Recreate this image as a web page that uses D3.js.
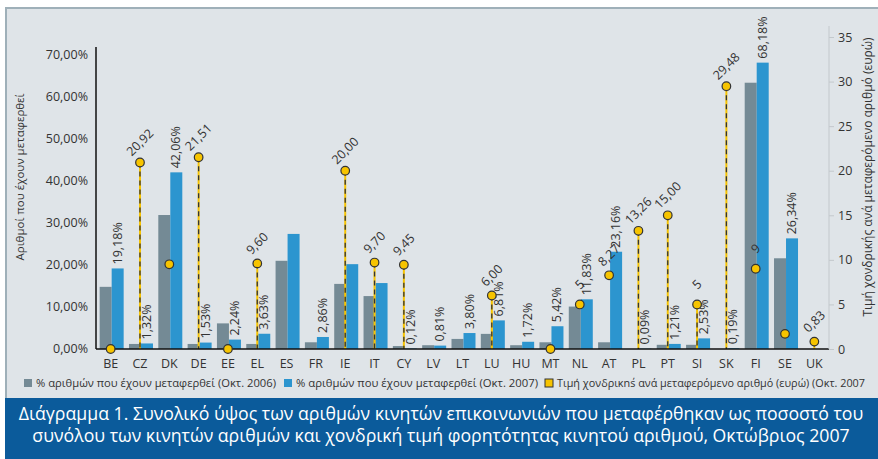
<!DOCTYPE html>
<html lang="el">
<meta charset="UTF-8">
<title>Διάγραμμα 1</title>
<script src="https://cdn.jsdelivr.net/npm/d3@7"></script>
<style>
  body { margin: 0; background: #fff; font-family: "Open Sans", sans-serif; }
  svg text { fill: #333; }
  .caption { fill: #fff !important; }
</style>
<body>
<div id="chart"></div>
<script>
// country codes on the x axis
var countries = ["BE","CZ","DK","DE","EE","EL","ES","FR","IE","IT","CY","LV","LT","LU","HU","MT","NL","AT","PL","PT","SI","SK","FI","SE","UK"];

// % of numbers ported, Oct 2006 (grey)
var ported2006 = [14.8,1.2,31.9,1.2,6.1,1.2,21.0,1.6,15.5,12.6,0.7,0.9,2.4,3.6,0.9,1.6,10.1,1.6,0,1.0,1.0,0,63.4,21.6,0];
// % of numbers ported, Oct 2007 (blue)
var ported2007 = [19.18,1.32,42.06,1.53,2.24,3.63,27.4,2.86,20.2,15.7,0.12,0.81,3.80,6.81,1.72,5.42,11.83,23.16,0.09,1.21,2.53,0.19,68.18,26.34,0];
var label2007 = ["19,18%","1,32%","42,06%","1,53%","2,24%","3,63%",null,"2,86%",null,null,"0,12%","0,81%","3,80%","6,81%","1,72%","5,42%","11,83%","23,16%","0,09%","1,21%","2,53%","0,19%","68,18%","26,34%",null];

// wholesale price per ported number (euro), Oct 2007 (yellow dots)
var price = [0,20.92,9.5,21.51,0,9.60,null,null,20.00,9.70,9.45,null,null,6.00,null,0,5,8.27,13.26,15.00,5,29.48,9,1.7,0.83];
var priceLabel = [null,"20,92",null,"21,51",null,"9,60",null,null,"20,00","9,70","9,45",null,null,"6,00",null,null,"5","8,27","13,26","15,00","5","29,48","9",null,"0,83"];
var dropLine = [0,1,0,1,0,1,0,0,1,1,1,0,0,1,0,0,0,0,1,1,1,1,0,0,1];

var leftTicks = [0,10,20,30,40,50,60,70];
var rightTicks = [0,5,10,15,20,25,30,35];

var legendItems = ["% αριθμών που έχουν μεταφερθεί (Οκτ. 2006)", "% αριθμών που έχουν μεταφερθεί (Οκτ. 2007)", "Τιμή χονδρικn΄s ανά μεταφερόμενο αριθμό (ευρώ) (Οκτ. 2007"];
var captionLines = ["Διάγραμμα 1. Συνολικό ύψος των αριθμών κινητών επικοινωνιών που μεταφέρθηκαν ως ποσοστό του", "συνόλου των κινητών αριθμών και χονδρική τιμή φορητότητας κινητού αριθμού, Οκτώβριος 2007"];

var W = 878, H = 459;
var grey = "#748a95", blue = "#2c95cf", yellow = "#f7c400";

var svg = d3.select("#chart").append("svg").attr("width", W).attr("height", H);

// panel background + frame
svg.append("rect").attr("x", 6).attr("y", 7).attr("width", W - 6).attr("height", 392).attr("fill", "#dfe4e8");
svg.append("line").attr("x1", 6).attr("x2", W).attr("y1", 8).attr("y2", 8).attr("stroke", "#9fb0b9").attr("stroke-width", 2);
svg.append("line").attr("x1", 6).attr("x2", 6).attr("y1", 7).attr("y2", 399).attr("stroke", "#9fb0b9").attr("stroke-width", 2);

var x = d3.scaleBand().domain(countries).range([96, 829]);
var yL = d3.scaleLinear().domain([0, 70]).range([349, 55]);
var yR = d3.scaleLinear().domain([0, 35]).range([349, 37]);

var bw = 12;

// bars
svg.append("g").selectAll("rect").data(countries).enter().append("rect")
  .attr("x", function(d) { return x(d) + x.bandwidth() / 2 - bw + 1; })
  .attr("y", function(d, i) { return yL(ported2006[i]); })
  .attr("width", bw)
  .attr("height", function(d, i) { return yL(0) - yL(ported2006[i]); })
  .attr("fill", grey);

svg.append("g").selectAll("rect").data(countries).enter().append("rect")
  .attr("x", function(d) { return x(d) + x.bandwidth() / 2 + 1; })
  .attr("y", function(d, i) { return yL(ported2007[i]); })
  .attr("width", bw)
  .attr("height", function(d, i) { return yL(0) - yL(ported2007[i]); })
  .attr("fill", blue);

// drop lines (yellow with black dashes)
var dl = svg.append("g");
countries.forEach(function(c, i) {
  if (!dropLine[i] || price[i] == null) return;
  var cx = x(c) + x.bandwidth() / 2;
  dl.append("line").attr("x1", cx).attr("x2", cx).attr("y1", yR(price[i])).attr("y2", yR(0))
    .attr("stroke", yellow).attr("stroke-width", 2);
  dl.append("line").attr("x1", cx).attr("x2", cx).attr("y1", yR(price[i])).attr("y2", yR(0))
    .attr("stroke", "#333").attr("stroke-width", 1.3).attr("stroke-dasharray", "5,4");
});

// blue bar labels
svg.append("g").selectAll("text").data(countries).enter()
  .filter(function(d, i) { return label2007[i] != null; })
  .append("text")
  .attr("transform", function(d) {
    var i = countries.indexOf(d);
    return "translate(" + (x(d) + x.bandwidth() / 2 + 1 + bw / 2 + 4) + "," + (yL(ported2007[i]) - 4) + ") rotate(-90)";
  })
  .attr("font-size", 12.5)
  .text(function(d) { return label2007[countries.indexOf(d)]; });

// axes
svg.append("line").attr("x1", 96).attr("x2", 829).attr("y1", 349).attr("y2", 349).attr("stroke", "#111").attr("stroke-width", 1.5);
svg.append("line").attr("x1", 96).attr("x2", 96).attr("y1", 47).attr("y2", 349).attr("stroke", "#111").attr("stroke-width", 1.5);

svg.append("g").selectAll("text").data(leftTicks).enter().append("text")
  .attr("x", 88).attr("y", function(d) { return yL(d); }).attr("dy", "0.35em")
  .attr("text-anchor", "end").attr("font-size", 12.5)
  .text(function(d) { return d3.format(".2f")(d).replace(".", ",") + "%"; });

var rAxis = svg.append("g").attr("transform", "translate(829,0)")
  .call(d3.axisRight(yR).tickValues(rightTicks).tickSize(5).tickPadding(4));
rAxis.select(".domain").attr("stroke", "#c3c8cc").attr("d", "M0,26V349");
rAxis.selectAll(".tick line").attr("stroke", "#c3c8cc");
rAxis.selectAll(".tick text").attr("font-size", 12.5).attr("font-family", "Open Sans").attr("fill", "#333");

svg.append("g").selectAll("text").data(countries).enter().append("text")
  .attr("x", function(d) { return x(d) + x.bandwidth() / 2; }).attr("y", 368)
  .attr("text-anchor", "middle").attr("font-size", 12.5).text(function(d) { return d; });

// axis titles
svg.append("text").attr("transform", "translate(24,177) rotate(-90)").attr("text-anchor", "middle")
  .attr("font-size", 11.5).text("Αριθμοί που έχουν μεταφερθεί");
svg.append("text").attr("transform", "translate(872,177) rotate(-90)").attr("text-anchor", "middle")
  .attr("font-size", 12).text("Τιμή χονδρικής ανά μεταφερόμενο αριθμό (ευρώ)");

// price dots + labels
var pts = svg.append("g");
countries.forEach(function(c, i) {
  if (price[i] == null) return;
  var cx = x(c) + x.bandwidth() / 2, cy = yR(price[i]);
  pts.append("circle").attr("cx", cx).attr("cy", cy).attr("r", 4.3)
    .attr("fill", yellow).attr("stroke", "#333").attr("stroke-width", 1.2);
  if (priceLabel[i])
    pts.append("text").attr("transform", "translate(" + (cx + 3) + "," + (cy - 17) + ") rotate(-45)")
      .attr("text-anchor", "middle").attr("font-size", 12.5).text(priceLabel[i]);
});

// legend
var legX = [24, 284, 545];
var legW = [240, 242, 308];
var legFs = [11.5, 11.5, 10.6];
var legColors = [grey, blue, yellow];
legendItems.forEach(function(t, i) {
  svg.append("rect").attr("x", legX[i]).attr("y", 379).attr("width", 8).attr("height", 8)
    .attr("fill", legColors[i]).attr("stroke", i == 2 ? "#333" : "none");
  svg.append("text").attr("x", legX[i] + 12).attr("y", 387).attr("font-size", legFs[i])
    .attr("textLength", legW[i]).attr("lengthAdjust", "spacingAndGlyphs").text(t);
});

// caption box
svg.append("rect").attr("x", 5).attr("y", 398).attr("width", W - 5).attr("height", 61).attr("fill", "#0b5b9b");
captionLines.forEach(function(t, i) {
  svg.append("text").attr("class", "caption").attr("x", 441).attr("y", 420 + i * 22)
    .attr("text-anchor", "middle").attr("font-size", 17.7).text(t);
});
</script>
</body>
</html>
